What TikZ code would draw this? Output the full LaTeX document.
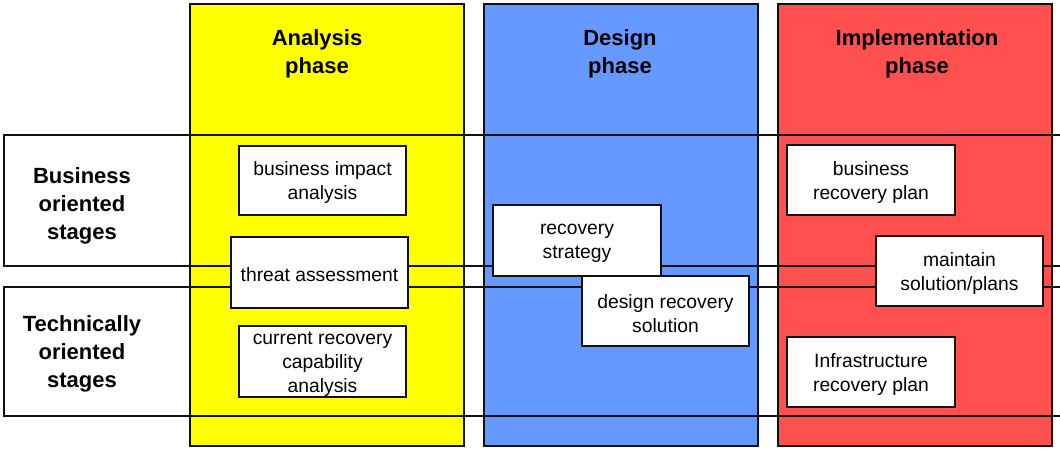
\documentclass[tikz,border=0pt]{standalone}
\usepackage{fontspec}
\setmainfont{Liberation Sans}
\definecolor{colyellow}{HTML}{FFFF00}
\definecolor{colblue}{HTML}{6699FF}
\definecolor{colred}{HTML}{FF5050}
\definecolor{lineblack}{HTML}{111111}
\begin{document}
\begin{tikzpicture}[x=1pt,y=-1pt,
  phasecol/.style={draw=lineblack, line width=1.3pt},
  bandline/.style={draw=lineblack, line width=1.3pt},
  stagebox/.style={draw=lineblack, fill=white, line width=1.3pt, inner sep=0pt},
  stagetext/.style={align=center, font=\fontsize{19.3}{24}\selectfont, inner sep=0pt, yshift=-2.5pt},
  headtext/.style={align=center, font=\fontsize{22}{28}\selectfont\bfseries},
  rowtext/.style={align=center, font=\fontsize{22}{28}\selectfont\bfseries},
]
\useasboundingbox (0,0) rectangle (1060,450);
\fill[white] (0,0) rectangle (1060,450);
% phase columns
\filldraw[phasecol, fill=colyellow] (190,4) rectangle (464,446);
\filldraw[phasecol, fill=colblue] (484,4) rectangle (758,446);
\filldraw[phasecol, fill=colred] (778,4) rectangle (1052,446);
% headers
\node[headtext] (hana) at (317,54) {Analysis\\phase};
\node[headtext] (hdes) at (620,54) {Design\\phase};
\node[headtext] (himp) at (917,54) {Implementation\\phase};
% bands
\draw[bandline] (1060,135) -- (4,135) -- (4,266) -- (1060,266);
\draw[bandline] (1060,287) -- (4,287) -- (4,416) -- (1060,416);
\node[rowtext] (rbus) at (82,206) {Business\\oriented\\stages};
\node[rowtext] (rtec) at (82,354) {Technically\\oriented\\stages};
% stage boxes
\node[stagebox, minimum width=167pt, minimum height=69pt,
  label={[stagetext]center:{business impact\\analysis}}] (bia) at (322.5,180.5) {};
\node[stagebox, minimum width=177pt, minimum height=71pt,
  label={[stagetext]center:{threat assessment}}] (thr) at (319.5,272.5) {};
\node[stagebox, minimum width=167pt, minimum height=71pt,
  label={[stagetext]center:{current recovery\\capability\\analysis}}] (crca) at (322.5,361.5) {};
\node[stagebox, minimum width=168pt, minimum height=71pt,
  label={[stagetext]center:{recovery\\strategy}}] (rs) at (577,240.5) {};
\node[stagebox, minimum width=167pt, minimum height=70pt,
  label={[stagetext]center:{design recovery\\solution}}] (drs) at (665.5,311) {};
\node[stagebox, minimum width=168pt, minimum height=70pt,
  label={[stagetext]center:{business\\recovery plan}}] (brp) at (871,180) {};
\node[stagebox, minimum width=167pt, minimum height=70pt,
  label={[stagetext]center:{maintain\\solution/plans}}] (msp) at (959.5,271) {};
\node[stagebox, minimum width=168pt, minimum height=70pt,
  label={[stagetext]center:{Infrastructure\\recovery plan}}] (irp) at (871,372) {};
\end{tikzpicture}
\end{document}
